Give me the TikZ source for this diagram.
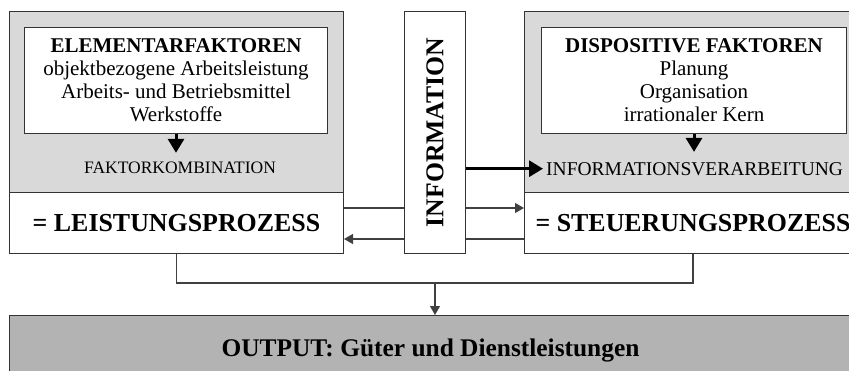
\documentclass[tikz,border=0pt]{standalone}
\usepackage{fontspec}
\setmainfont{Liberation Serif}
\usetikzlibrary{arrows.meta}
\definecolor{topgray}{HTML}{D9D9D9}
\definecolor{outgray}{HTML}{B3B3B3}
\tikzset{
	graybox/.style={draw=black!80, line width=1pt, fill=topgray, anchor=north west, inner sep=0pt},
	innerbox/.style={draw=black!80, line width=1pt, fill=white, anchor=north west, inner sep=0pt, align=center, font=\fontsize{21}{23}\selectfont},
	whitebox/.style={draw=black!80, line width=1pt, fill=white, anchor=north west, inner sep=0pt, font=\bfseries\fontsize{25.9}{28}\selectfont},
	outbox/.style={draw=black!80, line width=1pt, fill=outgray, anchor=north west, inner sep=0pt, font=\bfseries\fontsize{25.4}{28}\selectfont},
	steplabel/.style={inner xsep=3pt},
	conn/.style={draw=black!75, line width=1.3pt},
	connarrow/.style={conn, -{Triangle[length=9pt, width=10pt]}},
	bigarrow/.style={line width=3pt, -{Triangle[length=14pt, width=16pt]}}
}
\begin{document}
\begin{tikzpicture}[x=1pt, y=-1pt]
			%%%%% START %%%%%
			\clip (0,0) rectangle (849,370);
			
			\node[graybox, minimum width=334pt, minimum height=181pt] (elem) at (9,11) {};
			\node[innerbox, minimum width=303pt, minimum height=106pt] (elemin) at (24,27) {\textbf{ELEMENTARFAKTOREN}\\objektbezogene Arbeitsleistung\\Arbeits- und Betriebsmittel\\Werkstoffe};
			\node[steplabel, anchor=base, inner ysep=8.4pt, font=\fontsize{17.5}{20}\selectfont] (faktor) at (180,173) {FAKTORKOMBINATION};
			\node[whitebox, minimum width=334pt, minimum height=61pt] (leist) at (9,192) {= LEISTUNGSPROZESS};
			
			\node[draw=black!80, line width=1pt, fill=white, anchor=north west, minimum width=61pt, minimum height=242pt, inner sep=0pt] (info) at (404,11) {};
			\node[rotate=90, font=\bfseries\fontsize{25.7}{28}\selectfont] (infotext) at (info.center) {INFORMATION};
			
			\node[graybox, minimum width=337pt, minimum height=181pt] (disp) at (524,11) {};
			\node[innerbox, minimum width=305pt, minimum height=106pt] (dispin) at (541,27) {\textbf{DISPOSITIVE FAKTOREN}\\Planung\\Organisation\\irrationaler Kern};
			\node[steplabel, anchor=base west, inner ysep=10pt, font=\fontsize{19.5}{22}\selectfont] (verarb) at (543,175) {INFORMATIONSVERARBEITUNG};
			\node[whitebox, minimum width=337pt, minimum height=61pt] (steu) at (524,192) {= STEUERUNGSPROZESS};
			
			\node[outbox, minimum width=842pt, minimum height=70pt] (output) at (9,315) {OUTPUT: G\"uter und Dienstleistungen};
			
			\draw[bigarrow] (elemin.south) -- (elemin.south |- faktor.north);
			\draw[bigarrow] (dispin.south) -- (dispin.south |- verarb.north);
			\draw[bigarrow] (info.east |- verarb.west) -- (verarb.west);
			
			\coordinate (up) at (0,208);
			\coordinate (low) at (0,239);
			\draw[conn] (leist.east |- up) -- (info.west |- up);
			\draw[connarrow] (info.east |- up) -- (steu.west |- up);
			\draw[conn] (steu.west |- low) -- (info.east |- low);
			\draw[connarrow] (info.west |- low) -- (leist.east |- low);
			
			\coordinate (join) at (435,283);
			\draw[conn] (leist.south) |- (join) -| (steu.south);
			\draw[connarrow] (join) -- (join |- output.north);
			%%%%% END %%%%%
\end{tikzpicture}
\end{document}
